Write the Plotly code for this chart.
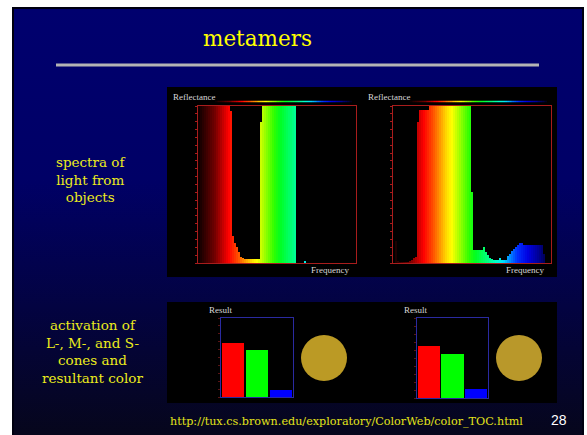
import base64
import plotly.graph_objects as go

W, H = 587, 435

# Reflectance of each object per frequency bin (79 bins, low frequency / red on the left)
object_a_reflectance = [
    1.0, 1.0, 1.0, 1.0, 1.0, 1.0, 1.0, 1.0, 1.0, 1.0,
    1.0, 1.0, 1.0, 1.0, 1.0, 1.0, 0.97, 0.17, 0.13, 0.10,
    0.07, 0.04, 0.03, 0.025, 0.025, 0.025, 0.025, 0.025, 0.025, 0.025,
    0.025, 0.9, 1.0, 1.0, 1.0, 1.0, 1.0, 1.0, 1.0, 1.0,
    1.0, 1.0, 1.0, 1.0, 1.0, 1.0, 1.0, 1.0, 1.0, 0.0,
    0.0, 0.0, 0.0, 0.015, 0.0, 0.0, 0.0, 0.0, 0.0, 0.0,
    0.0, 0.0, 0.0, 0.0, 0.0, 0.0, 0.0, 0.0, 0.0, 0.0,
    0.0, 0.0, 0.0, 0.0, 0.0, 0.0, 0.0, 0.0, 0.0,
]
object_b_reflectance = [
    0.0, 0.14, 0.01, 0.005, 0.005, 0.005, 0.005, 0.005, 0.012, 0.02,
    0.03, 0.04, 0.9, 0.975, 0.975, 0.975, 0.975, 0.975, 1.0, 1.0,
    1.0, 1.0, 1.0, 1.0, 1.0, 1.0, 1.0, 1.0, 1.0, 1.0,
    1.0, 1.0, 1.0, 1.0, 1.0, 1.0, 1.0, 1.0, 1.0, 0.45,
    0.085, 0.085, 0.085, 0.085, 0.085, 0.10, 0.07, 0.05, 0.035, 0.025,
    0.022, 0.022, 0.022, 0.03, 0.022, 0.022, 0.022, 0.045, 0.06, 0.075,
    0.09, 0.105, 0.115, 0.13, 0.125, 0.115, 0.115, 0.115, 0.115, 0.115,
    0.115, 0.115, 0.115, 0.115, 0.115, 0.06, 0.0, 0.0, 0.0,
]
frequency_bins = list(range(len(object_a_reflectance)))

# Cone activations (L, M, S) and the resulting perceived colour
cone_labels = ["L", "M", "S"]
object_a_cones = [0.68, 0.595, 0.09]
object_b_cones = [0.65, 0.55, 0.11]
cone_colors = ["#ff0000", "#00ff00", "#0000ff"]
resultant_colors = ["#bb9a25", "#b9982a"]

# Colour of light along the frequency axis
spectrum_stops = [
    [0.00, "#100000"], [0.10, "#700000"], [0.19, "#ff0000"], [0.25, "#ff5000"],
    [0.30, "#ffa000"], [0.34, "#ffe000"], [0.37, "#ffff00"], [0.42, "#a0ff00"],
    [0.48, "#30ff00"], [0.52, "#00ff20"], [0.60, "#00ff80"], [0.66, "#00ffd0"],
    [0.70, "#00e0ff"], [0.74, "#0090ff"], [0.79, "#0030ff"], [0.86, "#0000e0"],
    [0.93, "#000090"], [1.00, "#000020"],
]


def xd(left, right):
    return [left / W, right / W]


def yd(top, bottom):
    return [1 - bottom / H, 1 - top / H]


def px(x):
    return x / W


def py(y):
    return 1 - y / H


fig = go.Figure()

# --- reflectance spectra -------------------------------------------------
for k, refl in enumerate([object_a_reflectance, object_b_reflectance]):
    n = k + 1
    fig.add_trace(go.Bar(
        x=frequency_bins, y=refl, width=1.0,
        marker=dict(color=frequency_bins, colorscale=spectrum_stops,
                    cmin=0, cmax=len(frequency_bins) - 1, line=dict(width=0)),
        xaxis=f"x{n if n > 1 else ''}", yaxis=f"y{n if n > 1 else ''}",
        showlegend=False, hoverinfo="skip",
    ))

# --- colour strip above each spectrum -----------------------------------
for n in (5, 6):
    fig.add_trace(go.Heatmap(
        z=[frequency_bins], x=frequency_bins, colorscale=spectrum_stops,
        zmin=0, zmax=len(frequency_bins) - 1, showscale=False,
        xaxis=f"x{n}", yaxis=f"y{n}", hoverinfo="skip",
    ))

# --- cone activation bars -----------------------------------------------
for n, vals in ((3, object_a_cones), (4, object_b_cones)):
    fig.add_trace(go.Bar(
        x=cone_labels, y=vals, width=0.95,
        marker=dict(color=cone_colors, line=dict(width=0)),
        xaxis=f"x{n}", yaxis=f"y{n}", showlegend=False, hoverinfo="skip",
    ))

# --- resultant colour disks ---------------------------------------------
for n, col in ((7, resultant_colors[0]), (8, resultant_colors[1])):
    fig.add_trace(go.Scatter(
        x=[0], y=[0], mode="markers",
        marker=dict(size=46, color=col, line=dict(width=0)),
        xaxis=f"x{n}", yaxis=f"y{n}", showlegend=False, hoverinfo="skip",
    ))

hidden = dict(visible=False, fixedrange=True)

spec_x = dict(range=[-0.5, len(frequency_bins) - 0.5], showline=True, mirror=True,
              linecolor="#a81c1c", linewidth=1, showgrid=False, zeroline=False,
              showticklabels=False, ticks="", fixedrange=True)
spec_y = dict(range=[0, 1], showline=True, mirror=True, linecolor="#a81c1c",
              linewidth=1, showgrid=False, zeroline=False, showticklabels=False,
              ticks="outside", ticklen=2, tickwidth=1, tickcolor="#a81c1c",
              dtick=0.05, fixedrange=True)
res_x = dict(range=[-0.5, 2.5], showline=True, mirror=True, linecolor="#2a2aa0",
             linewidth=1, showgrid=False, zeroline=False, showticklabels=False,
             ticks="", fixedrange=True)
res_y = dict(range=[0, 1], showline=True, mirror=True, linecolor="#2a2aa0",
             linewidth=1, showgrid=False, zeroline=False, showticklabels=False,
             ticks="outside", ticklen=2, tickwidth=1, tickcolor="#5a1414",
             dtick=0.1, fixedrange=True)

# page background: white margin, dark frame, navy gradient slide
svg = """<svg xmlns="http://www.w3.org/2000/svg" width="587" height="435" viewBox="0 0 587 435" preserveAspectRatio="none">
<defs><linearGradient id="g" x1="0" y1="0" x2="0" y2="1">
<stop offset="0" stop-color="#00006e"/><stop offset="0.4" stop-color="#000066"/>
<stop offset="1" stop-color="#06061c"/></linearGradient></defs>
<rect width="587" height="435" fill="#ffffff"/>
<rect x="12" y="7" width="572" height="428" fill="#000010"/>
<rect x="14" y="9" width="568" height="426" fill="url(#g)"/>
</svg>"""
bg_uri = "data:image/svg+xml;base64," + base64.b64encode(svg.encode()).decode()

serif = "DejaVu Serif"
small_serif = "Liberation Serif"


def note(text, x, y, size, color, family=serif, xanchor="center"):
    return dict(text=text, x=px(x), y=py(y), xref="paper", yref="paper",
                xanchor=xanchor, yanchor="middle", showarrow=False,
                font=dict(family=family, size=size, color=color))


annotations = [
    note("metamers", 257.5, 38, 21.5, "#ffff00"),
    note("spectra of<br>light from<br>objects", 90, 180, 13.5, "#ecec1c"),
    note("activation of<br>L-, M-, and S-<br>cones and<br>resultant color", 92, 351, 13.5, "#ecec1c"),
    note("http://tux.cs.brown.edu/exploratory/ColorWeb/color_TOC.html", 346.5, 421, 11.2, "#e4e41a"),
    note("28", 559, 420, 14, "#ffffff", family="Liberation Sans"),
    note("Reflectance", 171, 97, 9, "#d8d8d8", family=small_serif, xanchor="left"),
    note("Reflectance", 366, 97, 9, "#d8d8d8", family=small_serif, xanchor="left"),
    note("Frequency", 351, 270, 9, "#d8d8d8", family=small_serif, xanchor="right"),
    note("Frequency", 546, 270, 9, "#d8d8d8", family=small_serif, xanchor="right"),
    note("Result", 207, 310, 9, "#d8d8d8", family=small_serif, xanchor="left"),
    note("Result", 402, 310, 9, "#d8d8d8", family=small_serif, xanchor="left"),
]

shapes = [
    # rule under the title
    dict(type="line", xref="paper", yref="paper", x0=px(56), x1=px(539), y0=py(65), y1=py(65),
         line=dict(color="#b4b4b4", width=3), layer="below"),
    # black panels holding the spectra and the cone responses
    dict(type="rect", xref="paper", yref="paper", x0=px(167), x1=px(557), y0=py(277), y1=py(87),
         fillcolor="#000000", line=dict(width=0), layer="below"),
    dict(type="rect", xref="paper", yref="paper", x0=px(167), x1=px(557), y0=py(403), y1=py(302),
         fillcolor="#000000", line=dict(width=0), layer="below"),
]

fig.update_layout(
    width=W, height=H, margin=dict(l=0, r=0, t=0, b=0),
    paper_bgcolor="rgba(0,0,0,0)", plot_bgcolor="rgba(0,0,0,0)",
    showlegend=False, bargap=0,
    images=[dict(source=bg_uri, xref="paper", yref="paper", x=0, y=1, sizex=1, sizey=1,
                 xanchor="left", yanchor="top", sizing="stretch", layer="below")],
    shapes=shapes, annotations=annotations,
    xaxis=dict(domain=xd(198, 356), **spec_x),
    yaxis=dict(domain=yd(106, 263), anchor="x", **spec_y),
    xaxis2=dict(domain=xd(393, 551), anchor="y2", **spec_x),
    yaxis2=dict(domain=yd(106, 263), anchor="x2", **spec_y),
    xaxis3=dict(domain=xd(221, 293), anchor="y3", **res_x),
    yaxis3=dict(domain=yd(318, 397), anchor="x3", **res_y),
    xaxis4=dict(domain=xd(417, 488), anchor="y4", **res_x),
    yaxis4=dict(domain=yd(318, 398), anchor="x4", **res_y),
    xaxis5=dict(domain=xd(215, 352), anchor="y5", range=[-0.5, len(frequency_bins) - 0.5], **hidden),
    yaxis5=dict(domain=yd(100.5, 102.5), anchor="x5", range=[-0.5, 0.5], **hidden),
    xaxis6=dict(domain=xd(410, 547), anchor="y6", range=[-0.5, len(frequency_bins) - 0.5], **hidden),
    yaxis6=dict(domain=yd(100.5, 102.5), anchor="x6", range=[-0.5, 0.5], **hidden),
    xaxis7=dict(domain=xd(298, 350), anchor="y7", range=[-1, 1], **hidden),
    yaxis7=dict(domain=yd(332, 384), anchor="x7", range=[-1, 1], **hidden),
    xaxis8=dict(domain=xd(493, 545), anchor="y8", range=[-1, 1], **hidden),
    yaxis8=dict(domain=yd(332, 384), anchor="x8", range=[-1, 1], **hidden),
)

fig.write_html("out.html")
